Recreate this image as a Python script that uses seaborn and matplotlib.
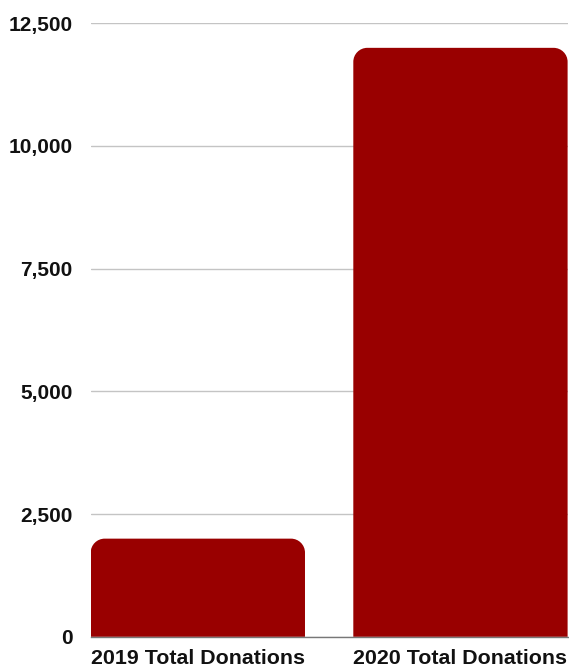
import matplotlib
matplotlib.use("Agg")
import matplotlib.pyplot as plt
import seaborn as sns
import pandas as pd
import numpy as np
from matplotlib.path import Path
from matplotlib.patches import PathPatch
from matplotlib.ticker import FuncFormatter

categories = ["2019 Total Donations", "2020 Total Donations"]
values = [2000, 12000]
yticks = [0, 2500, 5000, 7500, 10000, 12500]

BAR_COLOR = "#990000"

sns.set_theme(style="white")
plt.rcParams["font.family"] = ["Liberation Sans", "DejaVu Sans"]

W, H, DPI = 569, 668, 100
fig = plt.figure(figsize=(W / DPI, H / DPI), dpi=DPI)
left, right, top, bottom = 90.7, 567.6, 23.3, 636.8
ax = fig.add_axes([left / W, (H - bottom) / H, (right - left) / W, (bottom - top) / H])

df = pd.DataFrame({"cat": categories, "val": values})
sns.barplot(data=df, x="cat", y="val", color=BAR_COLOR, saturation=1,
            width=0.816, ax=ax, zorder=3)

ax.set_xlim(-0.408, 1.408)
ax.set_ylim(0, 12500)
ax.set_yticks(yticks)
ax.yaxis.set_major_formatter(FuncFormatter(lambda v, p: f"{int(v):,}"))
ax.set_xlabel("")
ax.set_ylabel("")

for s in ["top", "right", "left"]:
    ax.spines[s].set_visible(False)
ax.spines["bottom"].set_color("#777777")
ax.spines["bottom"].set_linewidth(1.0)
ax.spines["bottom"].set_zorder(4)

ax.grid(axis="y", color="#c4c4c4", linewidth=1.0, zorder=0)
ax.grid(axis="x", visible=False)
ax.set_axisbelow(True)

ax.tick_params(axis="y", length=0, pad=13, labelsize=15, labelcolor="#111111")
ax.tick_params(axis="x", length=0, pad=9, labelsize=15.4, labelcolor="#111111")
for lab in ax.get_xticklabels() + ax.get_yticklabels():
    lab.set_fontweight("bold")

# Rounded top corners
fig.canvas.draw()
px_per_x = ((right - left)) / (1.408 + 0.408)
px_per_y = (bottom - top) / 12500
r_px = 14
for patch in list(ax.patches):
    x0, y0 = patch.get_x(), patch.get_y()
    w, h = patch.get_width(), patch.get_height()
    rx = r_px / px_per_x
    ry = min(r_px / px_per_y, h)
    k = 0.5523
    x1, y1 = x0 + w, y0 + h
    verts = [
        (x0, y0),
        (x0, y1 - ry),
        (x0, y1 - ry + k * ry), (x0 + rx - k * rx, y1), (x0 + rx, y1),
        (x1 - rx, y1),
        (x1 - rx + k * rx, y1), (x1, y1 - ry + k * ry), (x1, y1 - ry),
        (x1, y0),
        (x0, y0),
    ]
    codes = [Path.MOVETO, Path.LINETO,
             Path.CURVE4, Path.CURVE4, Path.CURVE4,
             Path.LINETO,
             Path.CURVE4, Path.CURVE4, Path.CURVE4,
             Path.LINETO, Path.CLOSEPOLY]
    fc = patch.get_facecolor()
    patch.set_visible(False)
    ax.add_patch(PathPatch(Path(verts, codes), facecolor=fc, edgecolor="none", zorder=3))

fig.savefig("out.png", dpi=DPI, facecolor="white")
